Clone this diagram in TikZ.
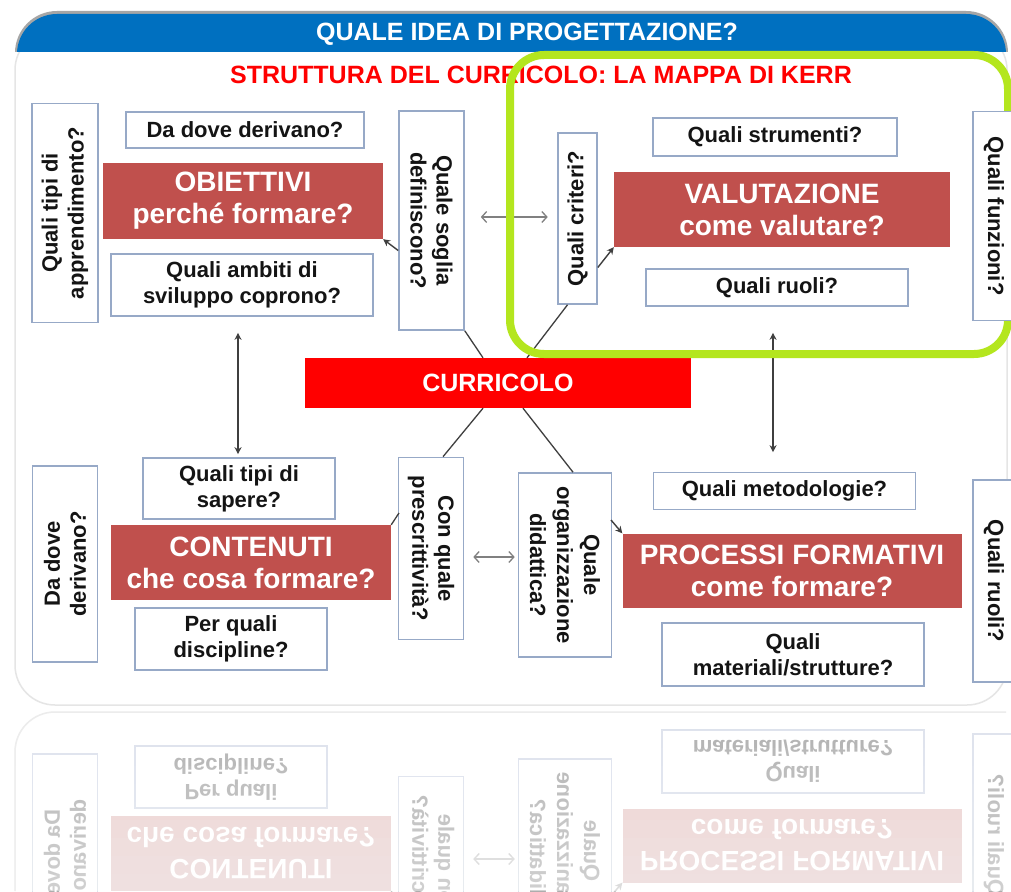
\documentclass[tikz,border=0pt]{standalone}
\usepackage{fontspec}
\setmainfont{Liberation Sans}
\usetikzlibrary{calc,arrows.meta}
\definecolor{hdrblue}{HTML}{0070C0}
\definecolor{boxred}{HTML}{C0504D}
\definecolor{curred}{HTML}{FF0000}
\definecolor{kerrgreen}{HTML}{B4E61E}
\definecolor{bordblue}{HTML}{97A9C7}
\definecolor{arrgray}{HTML}{808080}
\definecolor{arrdark}{HTML}{3F3F3F}
\definecolor{txtdark}{HTML}{141414}
\colorlet{bxborder}{bordblue}
\colorlet{bxred}{boxred}
\colorlet{bxtext}{txtdark}
\colorlet{bxarrow}{arrgray}
\colorlet{bxline}{arrdark}
\colorlet{bxfill}{white}
\colorlet{bxwtext}{white}
\tikzset{
  smallfont/.style={font=\fontsize{22}{26}\selectfont\bfseries},
  qbox/.style={draw=bxborder, line width=1.6pt, fill=bxfill, inner sep=0pt, smallfont, text=bxtext, align=center},
  vbox/.style={draw=bxborder, line width=1.6pt, fill=bxfill, inner sep=0pt},
  vtext/.style={inner sep=0pt, smallfont, text=bxtext, align=center},
  rbox/.style={fill=bxred, inner sep=0pt, font=\fontsize{28}{32}\selectfont\bfseries, text=bxwtext, align=center},
  dblarrow/.style={draw=bxarrow, line width=1.3pt, {Straight Barb[length=5pt,width=11pt]}-{Straight Barb[length=5pt,width=11pt]}},
  varrow/.style={draw=arrdark, line width=1.4pt, {Stealth[length=7pt,width=7pt]}-{Stealth[length=7pt,width=7pt]}},
  tarrow/.style={draw=bxline, line width=1.4pt, -{Stealth[length=7pt,width=7pt]}},
  cline/.style={draw=bxline, line width=1.3pt},
  titlefont/.style={font=\fontsize{25}{28}\selectfont\bfseries, inner sep=0pt},
}
\newcommand\kerrbottom[1]{%
  \node[qbox, minimum width=192pt, minimum height=61pt] (#1sapere) at (239,488.5) {Quali tipi di\\sapere?};
  \node[rbox, minimum width=280pt, minimum height=75pt] (#1contenuti) at (251,562.5) {CONTENUTI\\che cosa formare?};
  \node[qbox, minimum width=192pt, minimum height=62pt] (#1discipline) at (231,639) {Per quali\\discipline?};
  \node[vbox, minimum width=65pt, minimum height=196pt] (#1dadove) at (65,564) {};
  \node[vtext, rotate=90] (#1dadovet) at (#1dadove.center) {Da dove\\derivano?};
  \node[vbox, minimum width=65pt, minimum height=182pt] (#1prescr) at (431,548.5) {};
  \node[vtext, rotate=-90] (#1prescrt) at (#1prescr.center) {Con quale\\prescrittività?};
  \node[vbox, minimum width=93pt, minimum height=184pt] (#1organ) at (565,565) {};
  \node[vtext, rotate=-90, font=\fontsize{22}{27}\selectfont\bfseries] (#1organt) at (#1organ.center) {Quale\\organizzazione\\didattica?};
  \node[qbox, minimum width=262pt, minimum height=37pt] (#1metod) at (784.5,491) {Quali metodologie?};
  \node[rbox, minimum width=339pt, minimum height=74pt] (#1processi) at (792,570.5) {PROCESSI FORMATIVI\\come formare?};
  \node[qbox, minimum width=262pt, minimum height=63pt] (#1materiali) at (793,654.5) {Quali\\materiali/strutture?};
  \node[vbox, minimum width=42pt, minimum height=202pt] (#1ruoli) at (994,581) {};
  \node[vtext, rotate=-90] (#1ruolit) at (#1ruoli.center) {Quali ruoli?};
  \coordinate (#1ay) at (490,557);
  \coordinate (#1pc) at (399,513);
  \coordinate (#1op) at (611,520);
  \draw[dblarrow, shorten <=9pt, shorten >=3pt] (#1prescr.east |- #1ay) -- (#1organ.west |- #1ay);
  \draw[cline] (#1pc) -- (#1contenuti.north east);
  \draw[tarrow] (#1op) -- (#1processi.north west);
}
\begin{document}
\begin{tikzpicture}[x=1pt, y=-1pt]
\useasboundingbox (0,0) rectangle (1011,891);
\fill[white] (0,0) rectangle (1011,891);
% panel
\draw[black!10, line width=1.5pt, fill=white, rounded corners=40pt] (15,30) rectangle (1007,705);
% header
\begin{scope}
  \clip (0,0) rectangle (1011,52);
  \fill[black!35, rounded corners=42pt] (15,11) rectangle (1008,140);
  \fill[hdrblue, rounded corners=40pt] (17,14) rectangle (1006,140);
\end{scope}
\node[titlefont, text=white] (header) at (527,34) {QUALE IDEA DI PROGETTAZIONE?};
\node[titlefont, text=curred] (title) at (541,75) {STRUTTURA DEL CURRICOLO: LA MAPPA DI KERR};
% top row
\node[vbox, minimum width=66pt, minimum height=219pt] (apprend) at (65,213) {};
\node[vtext, rotate=90] (apprendt) at (apprend.center) {Quali tipi di\\apprendimento?};
\node[qbox, minimum width=238pt, minimum height=36pt] (dadove1) at (245,130) {Da dove derivano?};
\node[rbox, minimum width=280pt, minimum height=76pt] (obiettivi) at (243,201) {OBIETTIVI\\perché formare?};
\node[qbox, minimum width=262pt, minimum height=62pt] (ambiti) at (242,285) {Quali ambiti di\\sviluppo coprono?};
\node[vbox, minimum width=65pt, minimum height=219pt] (soglia) at (431.5,220.5) {};
\node[vtext, rotate=-90] (sogliat) at (soglia.center) {Quale soglia\\definiscono?};
\node[vbox, minimum width=39pt, minimum height=171pt] (criteri) at (577.5,218.5) {};
\node[vtext, rotate=90] (criterit) at (criteri.center) {Quali criteri?};
\node[qbox, minimum width=244pt, minimum height=38pt] (strumenti) at (775,137) {Quali strumenti?};
\node[rbox, minimum width=336pt, minimum height=75pt] (valutazione) at (782,209.5) {VALUTAZIONE\\come valutare?};
\node[qbox, minimum width=262pt, minimum height=37pt] (ruoli1) at (777,287.5) {Quali ruoli?};
\node[fill=curred, minimum width=386pt, minimum height=50pt, titlefont, text=white] (curricolo) at (498,383) {CURRICOLO};
% bottom row
\kerrbottom{m}
% connectors
\draw[cline] (soglia.south east) -- ($(curricolo.north)+(-15,0)$);
\draw[cline] ($(criteri.south)+(-10,0)$) -- ($(curricolo.north)+(29,0)$);
\draw[cline] ($(curricolo.south)+(-15,0)$) -- ($(mprescr.north)+(12,0)$);
\draw[cline] ($(curricolo.south)+(25,0)$) -- ($(morgan.north)+(8,0)$);
\draw[tarrow] ($(soglia.west)+(0,30)$) -- (obiettivi.south east);
\draw[tarrow] ($(criteri.east)+(0,49)$) -- (valutazione.south west);
\draw[dblarrow] ($(soglia.east)+(16,-3.5)$) -- ($(criteri.west)+(-9.5,-1.5)$);
\draw[varrow] ($(ambiti.south)+(-4,16)$) -- ($(msapere.north)+(-1,-3)$);
\draw[varrow] ($(ruoli1.south)+(-4,26)$) -- ($(mmetod.north)+(-11.5,-19.5)$);
% green frame
\draw[kerrgreen, line width=8pt, rounded corners=34pt] (510,55) rectangle (1008,354);
\node[vbox, minimum width=42pt, minimum height=209pt] (funzioni) at (994,216) {};
\node[vtext, rotate=-90] (funzionit) at (funzioni.center) {Quali funzioni?};
% reflection
\draw[black!8, line width=1.5pt, rounded corners=40pt] (15,891) -- (15,712) -- (1006,712);
\begin{scope}[shift={(0,1416)}, yscale=-1, transform shape]
  \colorlet{bxborder}{bordblue!35!white}
  \colorlet{bxred}{boxred!28!white}
  \colorlet{bxtext}{black!32!white}
  \colorlet{bxarrow}{arrgray!40!white}
  \colorlet{bxline}{arrdark!30!white}
  \kerrbottom{r}
\end{scope}
\foreach \i in {0,...,9} {
  \fill[white, opacity=0.06] (0,{712+\i*18}) rectangle (1011,891);
}
\end{tikzpicture}
\end{document}
